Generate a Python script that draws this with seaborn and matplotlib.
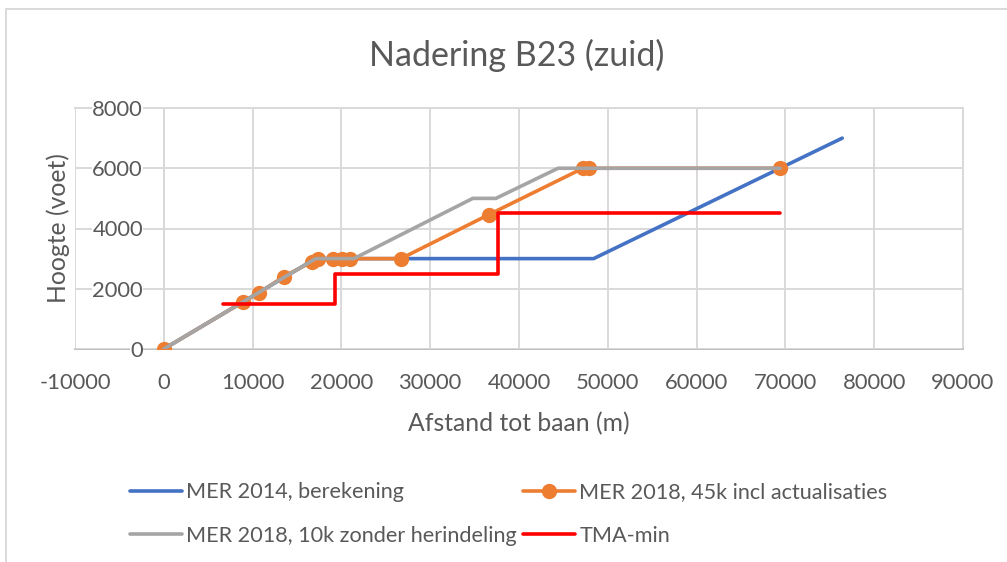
import numpy as np
import pandas as pd
import matplotlib
matplotlib.use("Agg")
import matplotlib.pyplot as plt
import seaborn as sns

# Data
mer2014_x = [0, 17100, 48400, 76400]
mer2014_y = [0, 3000, 3000, 7000]

mer45_x = [0, 8900, 10700, 13500, 16700, 17400, 19100, 20100, 21000, 26700, 36600, 47200, 47900, 69400]
mer45_y = [0, 1560, 1860, 2400, 2900, 3000, 3000, 3000, 3000, 3000, 4460, 6000, 6000, 6000]

mer10_x = [0, 17100, 21400, 34800, 37400, 44400, 69400]
mer10_y = [0, 3000, 3000, 5000, 5000, 6000, 6000]

tma_x = [6700, 19300, 19300, 37600, 37600, 69400]
tma_y = [1500, 1500, 2500, 2500, 4500, 4500]

labels = ["MER 2014, berekening", "MER 2018, 45k incl actualisaties",
          "MER 2018, 10k zonder herindeling", "TMA-min"]
colors = ["#4472C4", "#ED7D31", "#A5A5A5", "#FF0000"]

sns.set_theme(style="white")
plt.rcParams["font.family"] = ["Lato", "DejaVu Sans"]
plt.rcParams["axes.unicode_minus"] = False
TXT = "#595959"
GRID = "#D9D9D9"

fig = plt.figure(figsize=(10.07, 5.62), dpi=100)
ax = fig.add_axes([75 / 1007, 1 - 349 / 562, 888 / 1007, 241 / 562])

series = [(mer2014_x, mer2014_y), (mer45_x, mer45_y), (mer10_x, mer10_y), (tma_x, tma_y)]
for i, ((xs, ys), lab, col) in enumerate(zip(series, labels, colors)):
    df = pd.DataFrame({"x": xs, "y": ys})
    kw = dict(marker="o", markersize=11, markeredgewidth=0) if i == 1 else {}
    sns.lineplot(data=df, x="x", y="y", sort=False, estimator=None, ax=ax,
                 color=col, linewidth=2.6, label=lab, zorder=3 + i, **kw)

ax.set_xlim(-10000, 90000)
ax.set_ylim(0, 8000)
ax.set_xticks(np.arange(-10000, 90001, 10000))
ax.set_yticks(np.arange(0, 8001, 2000))
ax.grid(True, color=GRID, linewidth=1.4)
ax.xaxis.set_zorder(1.5)
ax.yaxis.set_zorder(1.6)

for s in ["top", "right"]:
    ax.spines[s].set_color(GRID)
    ax.spines[s].set_linewidth(1.4)
    ax.spines[s].set_zorder(1)
ax.spines["left"].set_position(("data", 0))
ax.spines["left"].set_color(GRID)
ax.spines["left"].set_linewidth(1.4)
ax.spines["left"].set_zorder(1)
ax.spines["bottom"].set_color("#BFBFBF")
ax.spines["bottom"].set_linewidth(1.4)
ax.spines["bottom"].set_zorder(1)

ax.tick_params(axis="y", length=0, pad=15, labelsize=15.8, labelcolor=TXT)
ax.tick_params(axis="x", length=0, pad=17, labelsize=15.8, labelcolor=TXT)
for t in ax.get_yticklabels():
    t.set_bbox(dict(facecolor="white", edgecolor="none", pad=0))

ax.set_xlabel("Afstand tot baan (m)", fontsize=17.8, color=TXT, labelpad=14)
ax.set_ylabel("Hoogte (voet)", fontsize=17.8, color=TXT)
ax.yaxis.set_label_coords(-0.006, 0.5)

fig.text(0.513, 1 - 55 / 562, "Nadering B23 (zuid)", ha="center", va="center",
         fontsize=24.5, color=TXT)

handles, labs = ax.get_legend_handles_labels()
ax.get_legend().remove()
order = [0, 2, 1, 3]  # legend fills by column, reference reads by row
fig.legend([handles[k] for k in order], [labs[k] for k in order], loc="center",
           bbox_to_anchor=(0.505, 1 - 514 / 562),
           ncol=2, frameon=False, fontsize=15.6, labelcolor=TXT,
           handlelength=2.4, handletextpad=0.2, columnspacing=0.3, labelspacing=1.1)

# chart area border (top and left visible in reference)
fig.add_artist(plt.Line2D([6 / 1007, 6 / 1007], [0, 1 - 9 / 562], color=GRID,
                          linewidth=1.4, transform=fig.transFigure))
fig.add_artist(plt.Line2D([6 / 1007, 1], [1 - 9 / 562, 1 - 9 / 562], color=GRID,
                          linewidth=1.4, transform=fig.transFigure))

fig.savefig("out.png", dpi=100)
